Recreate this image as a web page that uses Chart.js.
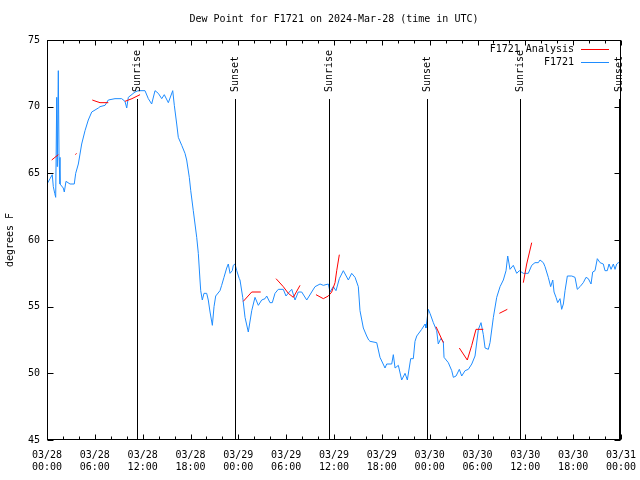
<!DOCTYPE html>
<html>
<head>
<meta charset="utf-8">
<script src="https://cdn.jsdelivr.net/npm/chart.js@4/dist/chart.umd.min.js"></script>
<style>
  body { margin: 0; background: #fff; }
  #wrap { width: 640px; height: 480px; }
</style>
</head>
<body>
<div id="wrap"><canvas id="dewpoint" width="640" height="480"></canvas></div>
<script>
// hours since 03/28 00:00 UTC
const obsHours = [0,0.38,0.66,0.79,0.97,1.09,1.22,1.29,1.42,1.51,1.63,2.04,2.17,2.38,2.89,3.42,3.60,3.93,4.35,4.77,
  5.18,5.61,6.44,6.65,7.28,7.69,8.53,9.37,9.78,10.0,10.2,11.04,11.45,12.29,12.71,13.13,13.55,13.96,14.39,14.71,
  15.22,15.77,15.97,16.27,16.47,16.90,17.31,17.52,17.85,18.03,18.35,18.78,18.98,19.19,19.28,19.48,19.69,20.03,20.23,20.45,
  20.74,20.95,21.16,21.70,21.91,22.20,22.54,22.74,22.96,23.24,23.37,23.58,23.80,24.12,24.21,24.55,24.84,25.25,25.68,26.09,
  26.51,26.93,27.35,27.56,27.97,28.26,28.60,29.01,29.64,29.98,30.39,30.70,31.11,31.52,31.95,32.58,33.20,33.62,34.25,34.66,
  35.29,35.50,35.91,36.25,36.67,37.17,37.80,38.22,38.64,39.05,39.26,39.68,40.10,40.35,40.52,41.36,41.77,42.40,42.61,43.24,
  43.44,43.66,44.07,44.49,44.91,45.20,45.62,45.95,46.16,46.38,47.00,47.42,47.54,47.83,48.04,48.46,48.88,49.08,49.39,49.71,
  49.80,50.34,50.77,50.97,51.31,51.72,52.02,52.44,52.85,53.28,53.69,54.11,54.44,54.73,54.95,55.36,55.57,55.99,56.41,56.83,
  57.24,57.58,57.79,58.08,58.49,58.92,59.25,59.75,60.37,60.80,61.21,61.63,61.84,62.26,62.47,62.88,63.18,63.44,63.60,63.85,
  64.06,64.35,64.56,64.77,64.98,65.27,65.82,66.23,66.52,66.86,67.27,67.61,67.90,68.24,68.45,68.74,69.03,69.37,69.78,69.99,
  70.28,70.50,70.75,71.04,71.25,71.46,71.66,71.88];
const obsDew = [64.2,64.6,64.9,64.0,63.5,63.2,70.7,65.5,72.7,66.2,64.2,63.9,63.6,64.4,64.2,64.2,65.0,65.7,67.2,68.2,
  69.0,69.6,69.9,70.0,70.1,70.5,70.6,70.6,70.4,69.9,70.7,71.1,71.2,71.2,70.6,70.2,71.2,71.0,70.6,70.9,
  70.3,71.2,70.1,68.7,67.7,67.1,66.5,66.0,64.7,63.7,62.2,60.2,59.0,57.0,56.2,55.5,56.0,56.0,55.5,54.6,
  53.6,55.0,55.8,56.2,56.6,57.2,57.9,58.2,57.5,57.7,58.1,58.2,57.7,57.1,57.0,55.7,54.2,53.1,54.7,55.7,
  55.1,55.5,55.6,55.8,55.3,55.3,56.0,56.3,56.3,55.8,56.1,56.3,55.5,56.1,56.1,55.5,56.1,56.5,56.7,56.6,
  56.7,56.1,56.5,56.2,57.1,57.7,57.0,57.5,57.2,56.5,54.7,53.4,52.8,52.5,52.4,52.3,51.2,50.4,50.7,50.7,
  51.4,50.4,50.6,49.5,50.0,49.5,51.1,51.1,52.4,52.8,53.3,53.7,53.4,54.8,54.5,53.8,53.2,52.2,52.6,52.4,
  51.2,50.8,50.2,49.7,49.8,50.3,49.8,50.2,50.3,50.7,51.3,53.3,53.8,52.9,51.9,51.8,52.3,54.2,55.7,56.5,
  57.0,57.7,58.8,57.8,58.1,57.5,57.7,57.5,57.5,58.1,58.3,58.3,58.5,58.3,58.0,57.2,56.5,57.0,56.1,55.7,
  55.3,55.6,54.8,55.2,56.2,57.3,57.3,57.2,56.3,56.5,56.8,57.2,57.1,56.7,57.6,57.7,58.6,58.3,58.2,57.7,
  57.7,58.2,57.8,58.2,57.8,58.2,58.3,58.3];

// analysis pieces, null = break
const anaHours = [0.59,1.0,1.42,null,3.57,3.70,null,5.68,6.15,6.65,7.69,null,9.78,10.66,11.67,null,
  24.62,25.68,26.81,null,28.73,29.64,30.27,30.90,31.74,null,33.74,34.66,35.29,35.71,36.13,36.34,36.67,null,
  48.80,49.71,null,51.72,52.72,53.28,53.81,54.73,null,56.74,57.74,null,59.75,60.17,60.80];
const anaDew = [66.0,66.2,66.4,null,66.4,66.5,null,70.5,70.4,70.3,70.3,null,70.4,70.6,70.9,null,
  55.4,56.1,56.1,null,57.1,56.5,56.0,55.7,56.6,null,55.9,55.6,55.8,56.1,56.8,57.7,58.9,null,
  53.5,52.3,null,51.9,51.0,52.1,53.3,53.3,null,54.5,54.8,null,56.8,58.2,59.8];

const eventHours = [11.29, 23.58, 35.37, 47.66, 59.33, 71.75];
const eventNames = ["Sunrise", "Sunset", "Sunrise", "Sunset", "Sunrise", "Sunset"];

const tickDates = ["03/28","03/28","03/28","03/28","03/29","03/29","03/29","03/29","03/30","03/30","03/30","03/30","03/31"];
const tickTimes = ["00:00","06:00","12:00","18:00","00:00","06:00","12:00","18:00","00:00","06:00","12:00","18:00","00:00"];

const chartTitle = "Dew Point for F1721 on 2024-Mar-28 (time in UTC)";

const FONT = '"DejaVu Sans Mono", "Liberation Mono", monospace';
Chart.defaults.font.family = FONT;
Chart.defaults.font.size = 10;
Chart.defaults.color = "#000";

function pairs(xs, ys){
    return xs.map(function(h, i){ return {x: h === null ? NaN : h, y: ys[i]}; });
}

// title, border, inward ticks, sunrise/sunset markers and legend, gnuplot style
const gnuFrame = {
    id: "gnuFrame",
    afterDatasetsDraw(chart){
        const ctx = chart.ctx, a = chart.chartArea;
        const xs = chart.scales.x, ys = chart.scales.y;
        const L = Math.round(a.left) + 0.5, R = Math.round(a.right) - 0.5;
        const T = Math.round(a.top) + 0.5, B = Math.round(a.bottom) - 0.5;
        ctx.save();
        ctx.strokeStyle = "#000";
        ctx.fillStyle = "#000";
        ctx.lineWidth = 1;
        ctx.font = "10px " + FONT;

        // title centred over the plot
        ctx.textAlign = "center";
        ctx.textBaseline = "middle";
        ctx.fillText(chartTitle, (a.left + a.right) / 2, a.top - 21);

        ctx.beginPath();
        xs.ticks.forEach(function(t){
            const px = Math.round(xs.getPixelForValue(t.value)) + 0.5;
            const len = t.value % 6 === 0 ? 5 : 3;
            ctx.moveTo(px, B); ctx.lineTo(px, B - len);
            ctx.moveTo(px, T); ctx.lineTo(px, T + len);
        });
        ys.ticks.forEach(function(t){
            const py = Math.round(ys.getPixelForValue(t.value)) + 0.5;
            ctx.moveTo(L, py); ctx.lineTo(L + 6, py);
            ctx.moveTo(R, py); ctx.lineTo(R - 6, py);
        });
        ctx.stroke();

        // event lines
        eventHours.forEach(function(h, i){
            const px = Math.round(xs.getPixelForValue(h)) + 0.5;
            ctx.beginPath();
            ctx.moveTo(px, a.top + 59);
            ctx.lineTo(px, a.bottom);
            ctx.stroke();
            ctx.save();
            ctx.translate(px, a.top + 52);
            ctx.rotate(-Math.PI / 2);
            ctx.textAlign = "left";
            ctx.textBaseline = "middle";
            ctx.fillText(eventNames[i], 0, 0);
            ctx.restore();
        });

        ctx.strokeRect(L, T, R - L, B - T);

        // legend
        ctx.textAlign = "right";
        ctx.textBaseline = "middle";
        chart.data.datasets.forEach(function(ds, i){
            const ly = Math.round(a.top + 10 + i * 13) - 0.5;
            ctx.fillText(ds.label, a.right - 47, ly);
            ctx.strokeStyle = ds.borderColor;
            ctx.beginPath();
            ctx.moveTo(a.right - 40, ly);
            ctx.lineTo(a.right - 12, ly);
            ctx.stroke();
        });
        ctx.restore();
    }
};

new Chart(document.getElementById("dewpoint"), {
    type: "line",
    data: {
        datasets: [{
            label: "F1721 Analysis",
            data: pairs(anaHours, anaDew),
            borderColor: "#ff0000",
            borderWidth: 1,
            pointRadius: 0,
            spanGaps: false
        }, {
            label: "F1721",
            data: pairs(obsHours, obsDew),
            borderColor: "#1e8cff",
            borderWidth: 1,
            pointRadius: 0
        }]
    },
    options: {
        responsive: false,
        animation: false,
        layout: { padding: { top: 40, right: 19 } },
        plugins: {
            legend: { display: false },
            tooltip: { enabled: false },
            title: { display: false }
        },
        scales: {
            x: {
                type: "linear",
                min: 0,
                max: 72,
                grid: { display: false, drawTicks: false },
                border: { display: false },
                ticks: {
                    stepSize: 2,
                    autoSkip: false,
                    maxRotation: 0,
                    padding: 9,
                    font: { size: 10, lineHeight: 1.25 },
                    callback: function(v){
                        return v % 6 === 0 ? [tickDates[v / 6], tickTimes[v / 6]] : "";
                    }
                },
                afterFit: function(s){
                    s.height = 40;
                    s.paddingLeft = 0;
                    s.paddingRight = 0;
                }
            },
            y: {
                min: 45,
                max: 75,
                grid: { display: false, drawTicks: false },
                border: { display: false },
                ticks: { stepSize: 5, padding: 7 },
                title: {
                    display: true,
                    text: "degrees F",
                    font: { size: 10, lineHeight: 1.2 },
                    padding: { top: 4, bottom: 0 }
                },
                afterFit: function(s){
                    s.width = 47;
                    s.paddingTop = 0;
                    s.paddingBottom = 0;
                }
            }
        }
    },
    plugins: [gnuFrame]
});
</script>
</body>
</html>
